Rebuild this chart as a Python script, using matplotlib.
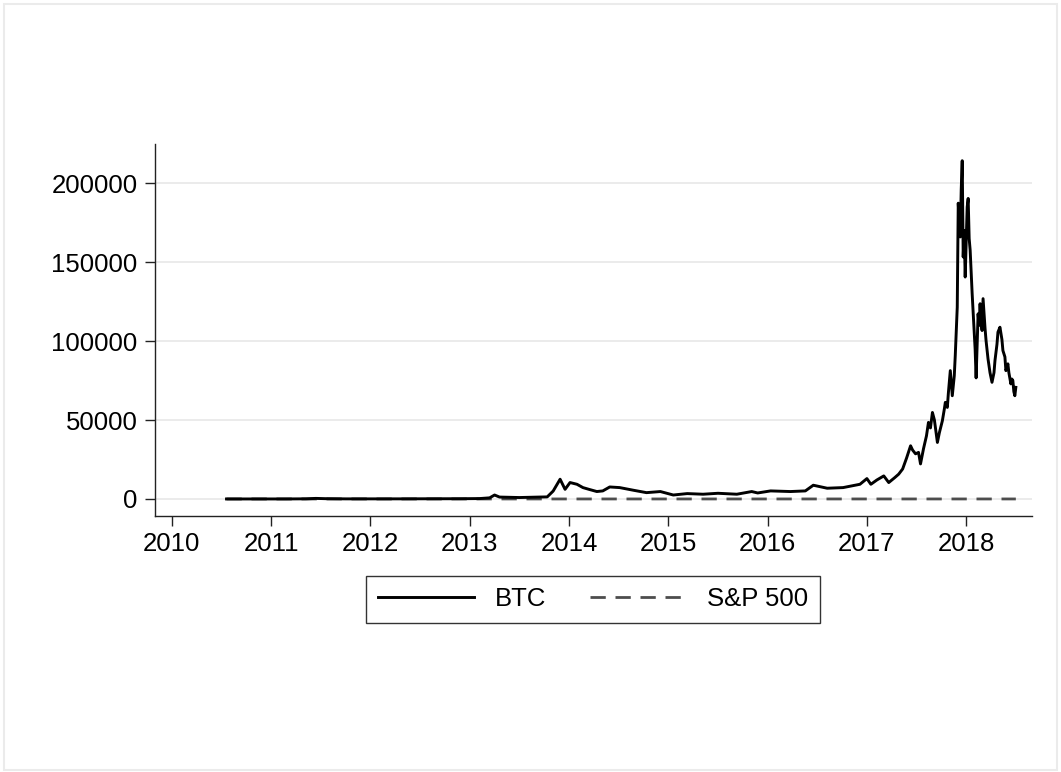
import matplotlib
matplotlib.use("Agg")
import matplotlib.pyplot as plt
from matplotlib.patches import Rectangle

plt.rcParams["font.family"] = ["Liberation Sans", "DejaVu Sans"]
plt.rcParams["font.size"] = 18.5

# growth of 1 unit invested, decimal years
btc_year = [2010.55, 2010.75, 2010.95, 2011.15, 2011.35, 2011.45, 2011.55, 2011.75,
            2012.0, 2012.3, 2012.6, 2012.9, 2013.1, 2013.2, 2013.25, 2013.3,
            2013.5, 2013.7, 2013.78, 2013.84, 2013.91, 2013.96, 2014.01, 2014.08,
            2014.14, 2014.2, 2014.28, 2014.34, 2014.41, 2014.51, 2014.65, 2014.78,
            2014.92, 2015.05, 2015.19, 2015.35, 2015.5, 2015.69, 2015.84, 2015.9,
            2016.03, 2016.23, 2016.38, 2016.46, 2016.6, 2016.76, 2016.93, 2017.0,
            2017.04, 2017.1, 2017.17, 2017.22, 2017.28, 2017.32, 2017.36, 2017.4,
            2017.44, 2017.46, 2017.49, 2017.52, 2017.54, 2017.57, 2017.6, 2017.62,
            2017.64, 2017.66, 2017.68, 2017.71, 2017.73, 2017.76, 2017.78, 2017.79,
            2017.81, 2017.82, 2017.84, 2017.86, 2017.88, 2017.89, 2017.91, 2017.92,
            2017.93, 2017.94, 2017.95, 2017.96, 2017.97, 2017.98, 2017.99, 2018.01,
            2018.02, 2018.03, 2018.04, 2018.06, 2018.07, 2018.09, 2018.1, 2018.12,
            2018.13, 2018.14, 2018.15, 2018.16, 2018.17, 2018.19, 2018.2, 2018.22,
            2018.24, 2018.26, 2018.28, 2018.29, 2018.31, 2018.32, 2018.34, 2018.36,
            2018.37, 2018.39, 2018.4, 2018.42, 2018.43, 2018.45, 2018.46, 2018.47,
            2018.48, 2018.49, 2018.5]
btc_value = [1, 2, 4, 10, 90, 350, 180, 60,
             60, 70, 120, 150, 250, 700, 2500, 1200,
             900, 1200, 1300, 5000, 12500, 6100, 10400, 9300,
             7200, 6100, 4700, 5100, 7600, 7200, 5500, 4000,
             4700, 2500, 3400, 3000, 3600, 3000, 4700, 3800,
             5100, 4700, 5100, 8700, 6800, 7200, 9300, 12900,
             9300, 12000, 14600, 10400, 13500, 15700, 19000, 26000,
             33700, 31000, 28600, 29500, 22200, 31800, 40000, 48500,
             45000, 54800, 50000, 35800, 42000, 49500, 57000, 61200,
             58000, 66700, 81300, 65400, 78000, 90900, 121500, 187400,
             175000, 166000, 196000, 214300, 153300, 170000, 140600, 185000,
             190400, 165000, 157600, 130200, 118400, 95000, 76700, 117300,
             110000, 123700, 112000, 106700, 126900, 108000, 100400, 88700,
             80000, 73900, 80000, 87700, 98000, 105700, 108800, 101000,
             94000, 90000, 81300, 85600, 80000, 72900, 76000, 75000,
             68000, 65400, 70700]

spx_year = [2010.55, 2011.0, 2011.5, 2012.0, 2012.5, 2013.0, 2013.5, 2014.0,
            2014.5, 2015.0, 2015.5, 2016.0, 2016.5, 2017.0, 2017.5, 2018.0, 2018.5]
spx_value = [1.0, 1.17, 1.22, 1.14, 1.23, 1.30, 1.48, 1.68,
             1.78, 1.87, 1.90, 1.85, 1.93, 2.06, 2.24, 2.45, 2.50]

year_ticks = list(range(2010, 2019))
value_ticks = [0, 50000, 100000, 150000, 200000]

fig = plt.figure(figsize=(10.61, 7.72), dpi=100)
fig.patches.append(Rectangle((4 / 1061, 2 / 772), 1053 / 1061, 766 / 772,
                             transform=fig.transFigure, fill=False,
                             edgecolor="#ebebeb", linewidth=1.5))

ax = fig.add_axes([0.1461, 0.3316, 0.8263, 0.4819])
ax.plot(btc_year, btc_value, color="black", linewidth=2.1, label="BTC", zorder=3)
line_spx, = ax.plot(spx_year, spx_value, color="#4d4d4d", linewidth=2.0,
                    linestyle="--", label="S&P 500", zorder=2)
line_spx.set_dashes([5.5, 3.5])

ax.set_xlim(2009.83, 2018.66)
ax.set_ylim(-10800, 224900)
ax.set_xticks(year_ticks)
ax.set_xticklabels([str(y) for y in year_ticks])
ax.set_yticks(value_ticks)
ax.set_yticklabels([str(v) for v in value_ticks])

ax.grid(axis="y", color="#e6e6e6", linewidth=1.1, zorder=0)
ax.set_axisbelow(True)
for side in ["top", "right"]:
    ax.spines[side].set_visible(False)
for side in ["left", "bottom"]:
    ax.spines[side].set_color("#222222")
    ax.spines[side].set_linewidth(1.0)
ax.tick_params(axis="both", direction="out", length=7.5, width=1.0,
               color="#222222", labelcolor="black")
ax.tick_params(axis="y", pad=5)
ax.tick_params(axis="x", pad=4)

leg = fig.legend(loc="center", bbox_to_anchor=(0.5589, 0.224), ncol=2,
                 frameon=True, fancybox=False, handlelength=3.75,
                 handletextpad=0.8, columnspacing=1.7, borderpad=0.45,
                 fontsize=18.5)
leg.get_frame().set_edgecolor("black")
leg.get_frame().set_linewidth(1.0)

plt.savefig("out.png", dpi=100)
